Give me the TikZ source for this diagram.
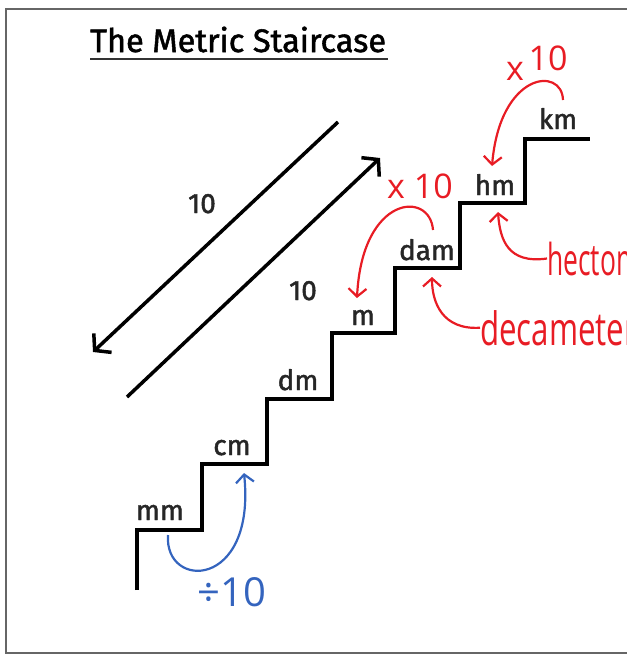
\documentclass[tikz,border=0pt]{standalone}
\usepackage{fontspec}
\setmainfont{Fira Sans}
\newfontfamily\stairfont[FakeBold=1.6]{Fira Sans}
\newfontfamily\handfont{Open Sans}
\usetikzlibrary{arrows.meta}
\definecolor{penred}{RGB}{232,28,36}
\definecolor{penblue}{RGB}{52,100,190}

\begin{document}
\begin{tikzpicture}[x=1pt, y=-1pt,
    stair/.style={line width=3.5pt, line join=miter},
    unit/.style={font=\stairfont\fontsize{28}{28}\selectfont, text=black!85, anchor=base, inner sep=0pt},
    dist/.style={line width=3.5pt, -{Straight Barb[length=11pt, width=26pt, line width=3.5pt]}},
    pen/.style={penred, line width=2.2pt, -{Straight Barb[length=8pt, width=18pt, line width=2.2pt]}},
    scrawl/.style={penred, font=\handfont\fontsize{34}{34}\selectfont, inner sep=0pt}
]
    \useasboundingbox (0,0) rectangle (627,654);
    \clip (0,0) rectangle (627,654);
    \draw[gray!80!black, line width=2.5pt] (6,9) rectangle (700,653);

    \node[anchor=base west, inner sep=0pt, font=\stairfont\fontsize{32.5}{32.5}\selectfont] (title) at (90,52) {The Metric Staircase};
    \draw[line width=2.5pt, black!80] (90,59) -- (388,59);

    \draw[stair] (137,590) -- (137,530) -- (202,530) -- (202,464) -- (267,464) -- (267,399)
        -- (332,399) -- (332,333) -- (395,333) -- (395,268) -- (460,268) -- (460,203)
        -- (525,203) -- (525,139) -- (590,139);

    \node[unit] (mm)  at (160,520) {mm};
    \node[unit] (cm)  at (232,455) {cm};
    \node[unit] (dm)  at (298,390) {dm};
    \node[unit] (m)   at (363,325) {m};
    \node[unit] (dam) at (427,260) {dam};
    \node[unit] (hm)  at (495,195) {hm};
    \node[unit] (km)  at (558,129) {km};

    \coordinate (downStart) at (338,122);
    \coordinate (downEnd)   at (93,352);
    \coordinate (upStart)   at (127,397);
    \coordinate (upEnd)     at (380,158);
    \draw[dist] (downStart) -- (downEnd);
    \draw[dist] (upStart) -- (upEnd);
    \node[unit] (tenA) at (202,213) {10};
    \node[unit] (tenB) at (303,300) {10};

    \coordinate (kmTop)   at (563,100);
    \coordinate (hmTop)   at (492,166);
    \coordinate (damTop)  at (433,230);
    \coordinate (mTop)    at (357,298);
    \coordinate (hmFoot)  at (498,212);
    \coordinate (damFoot) at (432,277);
    \coordinate (mmFoot)  at (168,535);
    \coordinate (cmFoot)  at (244,473);

    \node[scrawl] (timesSign) at (515,71) {x};
    \node[scrawl] (timesTen)  at (548,58) {10};
    \node[scrawl] (timesB) at (420,186) {x 10};
    \node[scrawl, anchor=base west, font=\handfont\fontsize{44}{44}\selectfont] (hecto) at (547,275) {\scalebox{0.6}[1]{hectometer}};
    \node[scrawl, anchor=base west, font=\handfont\fontsize{46}{46}\selectfont] (deca) at (480,345) {\scalebox{0.68}[1]{decameter}};
    \node[scrawl, penblue, font=\handfont\fontsize{40}{40}\selectfont] (divide) at (232,592) {÷10};

    \draw[pen] (kmTop) .. controls (562,66) and (500,72) .. (hmTop);
    \draw[pen] (damTop) .. controls (430,190) and (362,195) .. (mTop);
    \draw[pen] (hecto.west) .. controls (508,264) and (500,240) .. (hmFoot);
    \draw[pen] (deca.west) .. controls (442,330) and (432,302) .. (damFoot);
    \draw[pen, penblue] (mmFoot) .. controls (164,590) and (256,590) .. (cmFoot);
\end{tikzpicture}
\end{document}
